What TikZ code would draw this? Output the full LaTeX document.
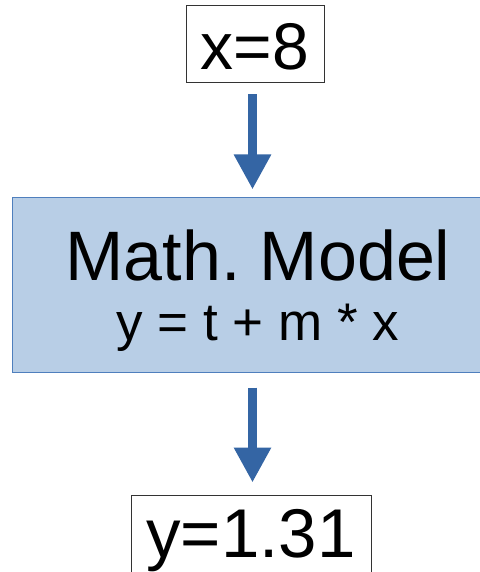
\documentclass[tikz,border=0pt]{standalone}
\usepackage{fontspec}
\setmainfont{Liberation Sans}
\usetikzlibrary{arrows.meta,positioning}
\definecolor{flowblue}{HTML}{3465A4}
\definecolor{modelfill}{HTML}{B8CEE6}
\definecolor{modeledge}{HTML}{4F7FBD}
\definecolor{valedge}{HTML}{333333}
\frenchspacing

\begin{document}
\begin{tikzpicture}[
  x=1pt,y=-1pt,
  valbox/.style={rectangle,draw=valedge,line width=0.9pt,fill=white,inner sep=0pt},
  modelbox/.style={rectangle,draw=modeledge,line width=1pt,fill=modelfill,
                   minimum width=492pt,minimum height=175pt},
  flow/.style={-{Triangle[length=35pt,width=35pt]},draw=flowblue,line width=9pt}
]
\useasboundingbox (0,0) rectangle (479,572);

\node[valbox,minimum width=138pt,text height=65pt,text depth=12pt,
      font=\fontsize{66}{72}\selectfont] (inval) at (255,43.5) {x=8};
\node[modelbox] (model) at (258,284.5) {};
\node[anchor=base,font=\fontsize{70}{80}\selectfont] (title) at (258,280) {Math. Model};
\node[anchor=base,font=\fontsize{53}{60}\selectfont] (formula) at (258,340) {y = t + m * x};
\node[valbox,minimum width=240pt,text height=62pt,text depth=30pt,
      font=\fontsize{69}{76}\selectfont] (outval) at (251,541) {y=1.31\hspace{8pt}};

\draw[flow,shorten <=12pt,shorten >=7pt] ([xshift=-2.5pt]inval.south) -- ([xshift=-2.5pt]inval.south |- model.north);
\draw[flow,shorten <=15pt,shorten >=12pt] ([xshift=1.5pt]outval.north |- model.south) -- ([xshift=1.5pt]outval.north);
\end{tikzpicture}
\end{document}
